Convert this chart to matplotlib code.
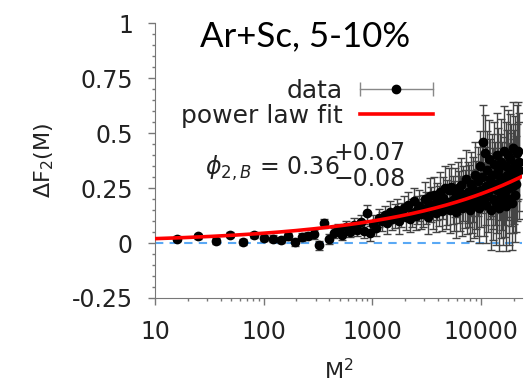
import matplotlib
matplotlib.use('Agg')
import numpy as np
import matplotlib.pyplot as plt
from matplotlib.lines import Line2D
from matplotlib.legend_handler import HandlerLine2D, HandlerTuple

# bin number M (x axis is M^2)
m_values = list(range(4, 151))

# delta F2 for each M
df2_values = [
    0.020, 0.030, 0.008, 0.038, 0.004, 0.037, 0.022, 0.020, 0.014, 0.030,
    0.004, 0.027, 0.034, 0.040, -0.011, 0.089, 0.018, 0.045, 0.062, 0.038,
    0.071, 0.052, 0.083, 0.060, 0.094, 0.055, 0.135, 0.045, 0.088, 0.070,
    0.115, 0.098, 0.126, 0.090, 0.140, 0.108, 0.122, 0.150, 0.100, 0.128,
    0.160, 0.118, 0.175, 0.110, 0.138, 0.190, 0.125, 0.150, 0.170, 0.132,
    0.145, 0.200, 0.160, 0.120, 0.215, 0.175, 0.150, 0.220, 0.135, 0.190,
    0.168, 0.230, 0.145, 0.205, 0.250, 0.160, 0.185, 0.240, 0.150, 0.255,
    0.195, 0.170, 0.230, 0.140, 0.250, 0.210, 0.180, 0.265, 0.160, 0.225,
    0.200, 0.290, 0.175, 0.230, 0.215, 0.150, 0.270, 0.190, 0.245, 0.170,
    0.310, 0.220, 0.185, 0.280, 0.160, 0.350, 0.240, 0.300, 0.460, 0.200,
    0.410, 0.260, 0.175, 0.330, 0.230, 0.380, 0.290, 0.150, 0.310, 0.250,
    0.200, 0.360, 0.270, 0.180, 0.400, 0.240, 0.330, 0.160, 0.300, 0.220,
    0.370, 0.260, 0.190, 0.420, 0.280, 0.230, 0.350, 0.170, 0.310, 0.400,
    0.250, 0.200, 0.380, 0.290, 0.330, 0.180, 0.430, 0.260, 0.300, 0.220,
    0.360, 0.270, 0.410, 0.320, 0.420, 0.370, 0.330,
]

df2_errors = [
    0.012, 0.012, 0.013, 0.012, 0.013, 0.014, 0.013, 0.015, 0.014, 0.016,
    0.016, 0.018, 0.017, 0.020, 0.019, 0.022, 0.021, 0.024, 0.023, 0.026,
    0.027, 0.026, 0.030, 0.029, 0.033, 0.031, 0.036, 0.034, 0.040, 0.038,
    0.042, 0.045, 0.043, 0.048, 0.050, 0.047, 0.054, 0.052, 0.058, 0.056,
    0.056, 0.059, 0.057, 0.061, 0.063, 0.062, 0.066, 0.064, 0.069, 0.067,
    0.072, 0.076, 0.074, 0.078, 0.081, 0.079, 0.084, 0.082, 0.087, 0.085,
    0.090, 0.094, 0.092, 0.097, 0.100, 0.098, 0.103, 0.101, 0.106, 0.104,
    0.110, 0.114, 0.112, 0.118, 0.120, 0.119, 0.124, 0.122, 0.127, 0.125,
    0.130, 0.135, 0.132, 0.138, 0.142, 0.140, 0.145, 0.143, 0.148, 0.146,
    0.150, 0.155, 0.152, 0.158, 0.162, 0.160, 0.166, 0.164, 0.170, 0.168,
    0.172, 0.176, 0.174, 0.178, 0.180, 0.179, 0.183, 0.181, 0.185, 0.184,
    0.186, 0.189, 0.188, 0.191, 0.190, 0.193, 0.192, 0.195, 0.194, 0.197,
    0.196, 0.199, 0.198, 0.201, 0.200, 0.203, 0.202, 0.205, 0.204, 0.207,
    0.206, 0.209, 0.208, 0.211, 0.210, 0.213, 0.212, 0.215, 0.214, 0.217,
    0.216, 0.219, 0.218, 0.221, 0.220, 0.223, 0.222,
]

# power law fit  dF2 = A * (M^2)^b
fit_amp = 0.0089
fit_exp = 0.35

x_ticks = [10, 100, 1000, 10000]
x_ticklabels = ['10', '100', '1000', '10000']
y_ticks = [-0.25, 0, 0.25, 0.5, 0.75, 1]
y_ticklabels = ['-0.25', '0', '0.25', '0.5', '0.75', '1']

m2 = np.array(m_values) ** 2

fig = plt.figure(figsize=(5.24, 3.86), dpi=100)
ax = fig.add_axes([0.296, 0.228, 0.700, 0.712])

ax.axhline(0, color='#5aa9f5', lw=1.5, ls=(0, (4, 3)), zorder=1)
ax.errorbar(m2, df2_values, yerr=df2_errors, fmt='o', color='black', ms=6,
            ecolor='#444444', elinewidth=1, capsize=3, capthick=1, zorder=2)
xfit = np.geomspace(10, 23800, 300)
ax.plot(xfit, fit_amp * xfit ** fit_exp, color='#ff0000', lw=2.6, zorder=3)

ax.set_xscale('log')
ax.set_xlim(10, 23800)
ax.set_ylim(-0.25, 1)
ax.set_xticks(x_ticks)
ax.set_xticklabels(x_ticklabels)
ax.xaxis.set_minor_locator(matplotlib.ticker.LogLocator(base=10, subs=np.arange(2, 10)))
ax.xaxis.set_minor_formatter(matplotlib.ticker.NullFormatter())
ax.set_yticks(y_ticks)
ax.set_yticklabels(y_ticklabels)
ax.yaxis.set_minor_locator(matplotlib.ticker.MultipleLocator(0.05))

for s in ['top', 'right']:
    ax.spines[s].set_visible(False)
for s in ['left', 'bottom']:
    ax.spines[s].set_color('#777777')
ax.tick_params(which='major', length=5, width=1, color='#777777', labelsize=17,
               labelcolor='#222222', pad=11)
ax.tick_params(which='minor', length=2.5, width=1, color='#777777')

ax.set_xlabel('M$^2$', fontsize=16, color='#222222', labelpad=10)
ax.set_ylabel(r'$\Delta$F$_2$(M)', fontsize=16, color='#222222', labelpad=11)

fig.text(0.582, 0.905, 'Ar+Sc, 5-10%', fontsize=25, family='Lato',
         ha='center', va='center', color='black')

# legend: data handle is a horizontal bar with caps and a dot
bar = Line2D([], [], color='#888888', lw=1, marker='|', ms=10, mew=1)
dot = Line2D([], [], color='black', ls='none', marker='o', ms=6)
red = Line2D([], [], color='#ff0000', lw=2.6)
ax.legend([(bar, dot), red], ['data', 'power law fit'],
          handler_map={bar: HandlerLine2D(marker_pad=0, numpoints=2),
                       dot: HandlerLine2D(numpoints=1),
                       tuple: HandlerTuple(ndivide=1)},
          loc='upper right', bbox_to_anchor=(445 / 524, 1 - 66 / 386),
          bbox_transform=fig.transFigure, frameon=False, markerfirst=False,
          fontsize=18, handlelength=2.9, handletextpad=0.68, labelspacing=0.05,
          borderpad=0, labelcolor='#222222')

fig.text(205 / 524, 1 - 168 / 386, r'$\phi_{2,B}$ = 0.36', fontsize=17,
         ha='left', va='center', color='#222222')
fig.text(334 / 524, 1 - 153 / 386, '+0.07', fontsize=17, ha='left', va='center',
         color='#222222')
fig.text(334 / 524, 1 - 179 / 386, '\u22120.08', fontsize=17, ha='left', va='center',
         color='#222222')

plt.savefig('out.png', dpi=100)
